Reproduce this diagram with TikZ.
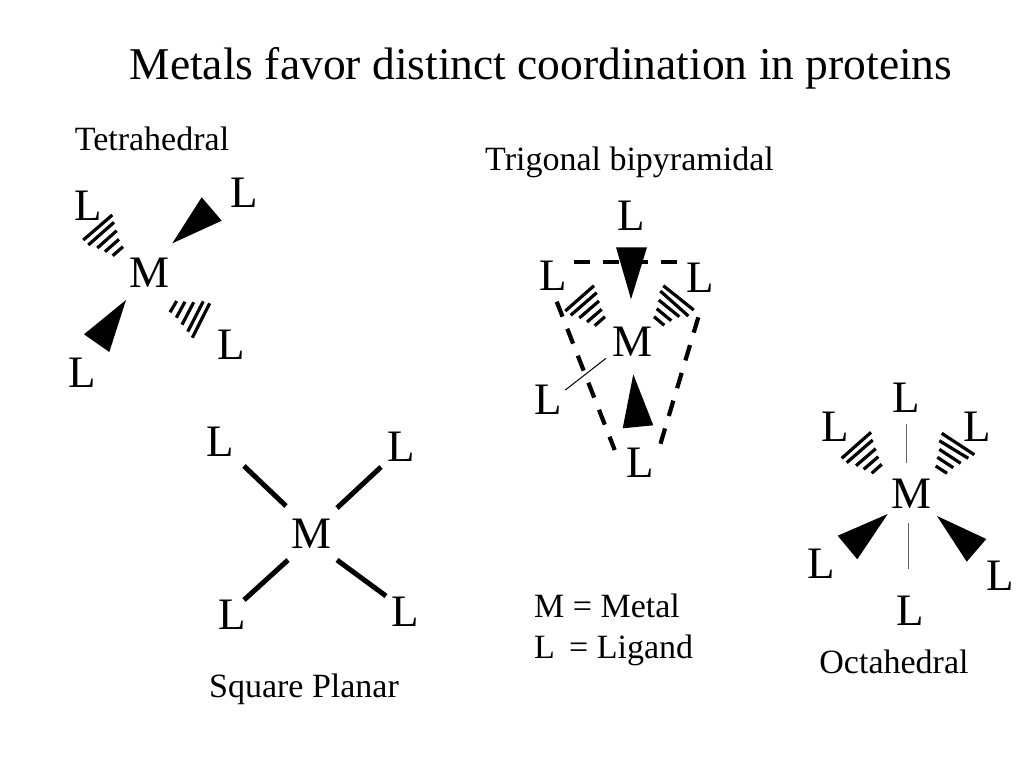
\documentclass[tikz,border=0pt]{standalone}
\usepackage{fontspec}
\setmainfont{Liberation Serif}
\newcommand{\hashl}[2]{\draw[hashline] (#1) -- (#2);}
\newcommand{\wedgebond}[3]{\fill[black] (#1) -- (#2) -- (#3) -- cycle;}
\tikzset{
  atom/.style={inner sep=0pt,font=\fontsize{45}{45}\selectfont},
  label/.style={inner sep=0pt,font=\fontsize{34}{34}\selectfont},
  titletext/.style={inner sep=0pt,font=\fontsize{45.5}{45.5}\selectfont},
  hashline/.style={line width=3.2pt,black},
  planar/.style={line width=5pt,black},
  cage/.style={line width=4.2pt,black,dash pattern=on 16pt off 13pt},
  thinline/.style={line width=1pt,black},
  greyline/.style={line width=1pt,black!60}
}
\begin{document}
\begin{tikzpicture}[x=1pt,y=-1pt]
\useasboundingbox (0,0) rectangle (1024,768);
\node[titletext] (title) at (541,68) {Metals favor distinct coordination in proteins};
\node[label] (ttetra) at (152,138.5) {Tetrahedral};
\node[label] (ttri) at (629.5,162) {Trigonal bipyramidal};
\node[label] (tsq) at (304,689) {Square Planar};
\node[label] (tocta) at (894,661.5) {Octahedral};
\node[label,anchor=west] (lm) at (534,606) {M = Metal};
\node[label,anchor=west] (ll) at (534,650) {L\, = Ligand};
% Tetrahedral
\node[atom] (tM) at (150,273) {M};
\node[atom] (tL1) at (88,206) {L};
\node[atom] (tL2) at (244,193) {L};
\node[atom] (tL3) at (231,345) {L};
\node[atom] (tL4) at (82,373) {L};
\wedgebond{172.3,243.3}{201.7,197.3}{221.7,220.7}
\wedgebond{126,300}{84,334.3}{109.3,352}
\hashl{83.3,240}{112.3,215}
\hashl{88.3,245}{114,222.3}
\hashl{97.3,248}{116.7,230.7}
\hashl{105,251.7}{119,239.3}
\hashl{112.7,255.7}{123,246.7}
\hashl{192.3,337.7}{209.7,303.3}
\hashl{187.7,331.7}{203.3,301.3}
\hashl{182,324.7}{193.7,302.3}
\hashl{176.3,317.7}{185,301.7}
\hashl{170,312.3}{176.7,301}
% Square planar
\node[atom] (sM) at (312,534) {M};
\node[atom] (sL1) at (220,442) {L};
\node[atom] (sL2) at (401,447) {L};
\node[atom] (sL3) at (232,615) {L};
\node[atom] (sL4) at (405,612) {L};
\coordinate (s1a) at (244,466); \coordinate (s1b) at (286,506);
\coordinate (s2a) at (381,467); \coordinate (s2b) at (337,508);
\coordinate (s3a) at (288,560); \coordinate (s3b) at (244,600);
\coordinate (s4a) at (337,560); \coordinate (s4b) at (386,596);
\draw[planar] (s1a) -- (s1b);
\draw[planar] (s2a) -- (s2b);
\draw[planar] (s3a) -- (s3b);
\draw[planar] (s4a) -- (s4b);
% Trigonal bipyramidal
\node[atom] (bM) at (632,342) {M};
\node[atom] (bL1) at (631,216) {L};
\node[atom] (bL2) at (553,276) {L};
\node[atom] (bL3) at (700,278) {L};
\node[atom] (bL4) at (548,400) {L};
\node[atom] (bL5) at (640,463) {L};
\coordinate (c1) at (574,262); \coordinate (c2) at (681,262);
\coordinate (c3) at (556.7,301.7); \coordinate (c4) at (614.7,450);
\coordinate (c5) at (698.3,317.3); \coordinate (c6) at (659.3,447.7);
\draw[cage] (c1) -- (c2);
\draw[cage] (c3) -- (c4);
\draw[cage] (c5) -- (c6);
\wedgebond{616,247.3}{647,247.3}{631,299.3}
\wedgebond{633.3,374.3}{622.7,428.3}{653.3,425.3}
\coordinate (b4a) at (606,358.3); \coordinate (b4b) at (565.3,390);
\draw[thinline] (b4a) -- (b4b);
\hashl{594,285.7}{565.3,311}
\hashl{596.7,292.7}{570.7,315.3}
\hashl{599,301}{579.3,318}
\hashl{601.7,309.3}{587,322}
\hashl{605,316.7}{594.7,325.7}
\hashl{663.3,285.7}{693.7,310}
\hashl{660.3,291}{688.3,316}
\hashl{658.7,300}{679.3,316.7}
\hashl{656.7,308.7}{671.3,320.7}
\hashl{654,316.7}{664.3,325.3}
% Octahedral
\node[atom] (oM) at (911,494) {M};
\node[atom] (oL1) at (906,398) {L};
\node[atom] (oL2) at (835,427) {L};
\node[atom] (oL3) at (977,427) {L};
\node[atom] (oL4) at (821,564) {L};
\node[atom] (oL5) at (1000,576) {L};
\node[atom] (oL6) at (910,611) {L};
\coordinate (o1a) at (906,424.3); \coordinate (o1b) at (906,462.7);
\coordinate (o6a) at (908,522.7); \coordinate (o6b) at (908,569.3);
\draw[greyline] (o1a) -- (o1b);
\draw[greyline] (o6a) -- (o6b);
\hashl{871,432.3}{841.7,458.3}
\hashl{872.7,440}{846.7,462.7}
\hashl{875.7,448.7}{856,465.7}
\hashl{878.3,456.7}{863.7,469.3}
\hashl{881.7,464.3}{871.7,473.3}
\hashl{941.7,433.3}{974.3,454.7}
\hashl{939.3,440.7}{968.3,458.3}
\hashl{939.3,449.3}{960.7,463.3}
\hashl{937.3,457.3}{953.3,467.7}
\hashl{935.7,466}{947,473.3}
\wedgebond{887.7,514}{837.7,535.7}{857.3,559.3}
\wedgebond{937,516}{986.3,539}{966.7,561.7}
\end{tikzpicture}
\end{document}
